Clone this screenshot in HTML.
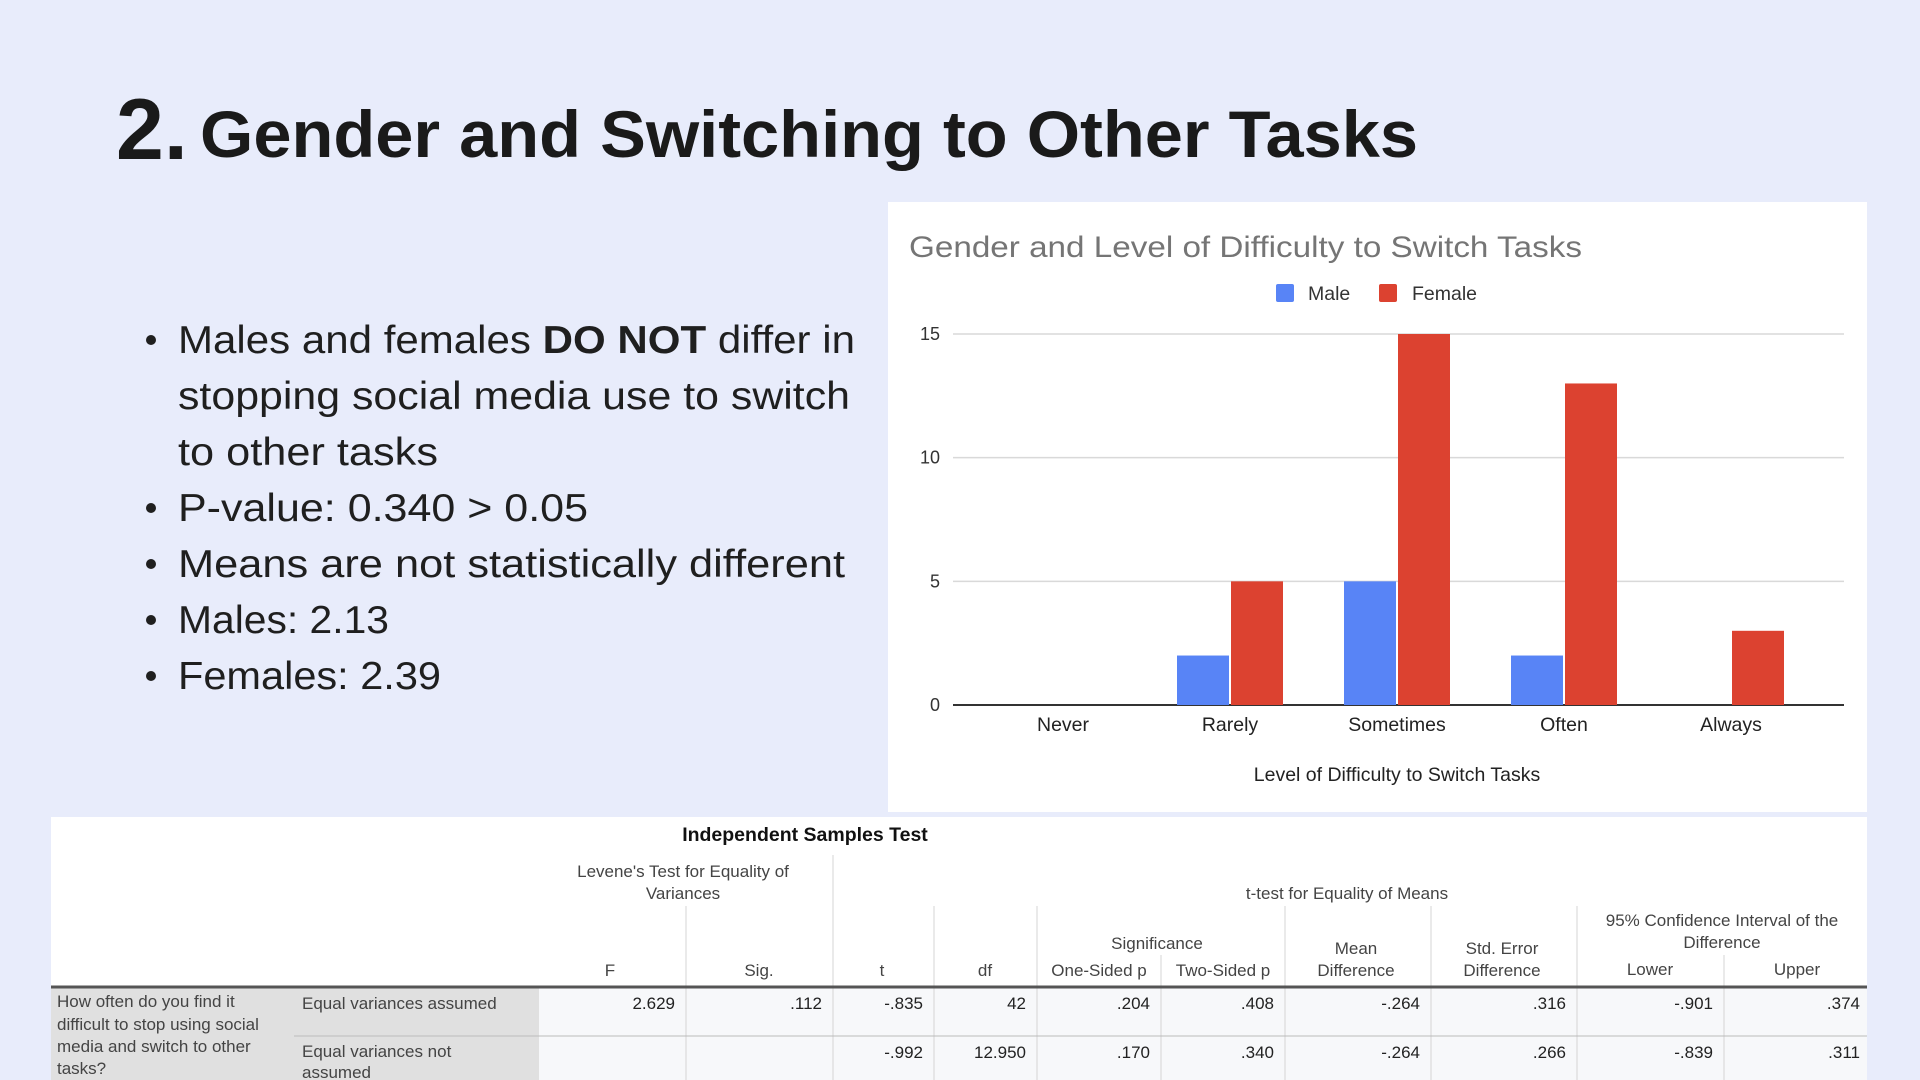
<!DOCTYPE html>
<html><head><meta charset="utf-8"><style>
html,body{margin:0;padding:0;background:#e8ecfb;}
svg{display:block;font-family:"Liberation Sans",sans-serif;}
</style></head><body>
<svg id="page" width="1920" height="1080" viewBox="0 0 1920 1080" xmlns="http://www.w3.org/2000/svg">
<rect x="0" y="0" width="1920" height="1080" fill="#e8ecfb"/>
<g>
<text x="116" y="159" font-size="86" font-weight="bold" fill="#1a1a1a">2.</text>
<text x="200" y="157" font-size="66" font-weight="bold" fill="#1a1a1a" textLength="1218" lengthAdjust="spacingAndGlyphs">Gender and Switching to Other Tasks</text>
</g>
<g font-size="39" fill="#1f1f1f">
<circle cx="151" cy="340" r="5" fill="#1f1f1f"/>
<text x="178" y="353" textLength="677" lengthAdjust="spacingAndGlyphs">Males and females <tspan font-weight="bold">DO NOT</tspan> differ in</text>
<text x="178" y="409" textLength="672" lengthAdjust="spacingAndGlyphs">stopping social media use to switch</text>
<text x="178" y="465" textLength="260" lengthAdjust="spacingAndGlyphs">to other tasks</text>
<circle cx="151" cy="508" r="5" fill="#1f1f1f"/>
<text x="178" y="521" textLength="410" lengthAdjust="spacingAndGlyphs">P-value: 0.340 &gt; 0.05</text>
<circle cx="151" cy="564" r="5" fill="#1f1f1f"/>
<text x="178" y="577" textLength="667" lengthAdjust="spacingAndGlyphs">Means are not statistically different</text>
<circle cx="151" cy="620" r="5" fill="#1f1f1f"/>
<text x="178" y="633" textLength="211" lengthAdjust="spacingAndGlyphs">Males: 2.13</text>
<circle cx="151" cy="676" r="5" fill="#1f1f1f"/>
<text x="178" y="689" textLength="263" lengthAdjust="spacingAndGlyphs">Females: 2.39</text>
</g>

<g id="chart">
<rect x="888" y="202" width="979" height="610" fill="#ffffff"/>
<text x="909" y="257" font-size="30" fill="#757575" textLength="673" lengthAdjust="spacingAndGlyphs">Gender and Level of Difficulty to Switch Tasks</text>
<g font-size="19.5" fill="#333">
<rect x="1276" y="284" width="18" height="18" rx="2" fill="#5884f6"/>
<text x="1308" y="300">Male</text>
<rect x="1379" y="284" width="18" height="18" rx="2" fill="#dc4230"/>
<text x="1412" y="300">Female</text>
</g>
<g id="grid"></g>
<g id="bars"></g>
<g id="xlabels"></g>
<text x="1397" y="781" font-size="19.5" fill="#222" text-anchor="middle">Level of Difficulty to Switch Tasks</text>
</g>

<g id="table" font-size="17" fill="#444">
<rect x="51" y="817" width="1816" height="263" fill="#ffffff"/>
<rect x="51" y="988" width="488" height="92" fill="#e0e0e0"/>
<rect x="539" y="988" width="1328" height="92" fill="#f7f8fa"/>
<text x="805" y="841" font-size="19.5" font-weight="bold" fill="#111" text-anchor="middle">Independent Samples Test</text>
<g stroke="#d4d4d4" stroke-width="1">
<line x1="833" y1="855" x2="833" y2="1080"/>
<line x1="686" y1="906" x2="686" y2="1080"/>
<line x1="934" y1="906" x2="934" y2="1080"/>
<line x1="1037" y1="906" x2="1037" y2="1080"/>
<line x1="1161" y1="955" x2="1161" y2="1080"/>
<line x1="1285" y1="906" x2="1285" y2="1080"/>
<line x1="1431" y1="906" x2="1431" y2="1080"/>
<line x1="1577" y1="906" x2="1577" y2="1080"/>
<line x1="1724" y1="955" x2="1724" y2="1080"/>
<line x1="294" y1="1036" x2="1867" y2="1036" stroke="#bbb"/>
</g>
<line x1="51" y1="987" x2="1867" y2="987" stroke="#555" stroke-width="3"/>
<g text-anchor="middle">
<text x="683" y="877">Levene's Test for Equality of</text>
<text x="683" y="899">Variances</text>
<text x="1347" y="899">t-test for Equality of Means</text>
<text x="610" y="976">F</text>
<text x="759" y="976">Sig.</text>
<text x="882" y="976">t</text>
<text x="985" y="976">df</text>
<text x="1157" y="949">Significance</text>
<text x="1099" y="976">One-Sided p</text>
<text x="1223" y="976">Two-Sided p</text>
<text x="1356" y="954">Mean</text>
<text x="1356" y="976">Difference</text>
<text x="1502" y="954">Std. Error</text>
<text x="1502" y="976">Difference</text>
<text x="1722" y="926">95% Confidence Interval of the</text>
<text x="1722" y="948">Difference</text>
<text x="1650" y="975">Lower</text>
<text x="1797" y="975">Upper</text>
</g>
<g>
<text x="57" y="1007">How often do you find it</text>
<text x="57" y="1030">difficult to stop using social</text>
<text x="57" y="1052">media and switch to other</text>
<text x="57" y="1074">tasks?</text>
<text x="302" y="1009">Equal variances assumed</text>
<text x="302" y="1057">Equal variances not</text>
<text x="302" y="1078">assumed</text>
</g>
<g text-anchor="end" fill="#222">
<text x="675" y="1009">2.629</text><text x="822" y="1009">.112</text><text x="923" y="1009">-.835</text><text x="1026" y="1009">42</text><text x="1150" y="1009">.204</text><text x="1274" y="1009">.408</text><text x="1420" y="1009">-.264</text><text x="1566" y="1009">.316</text><text x="1713" y="1009">-.901</text><text x="1860" y="1009">.374</text>
<text x="923" y="1058">-.992</text><text x="1026" y="1058">12.950</text><text x="1150" y="1058">.170</text><text x="1274" y="1058">.340</text><text x="1420" y="1058">-.264</text><text x="1566" y="1058">.266</text><text x="1713" y="1058">-.839</text><text x="1860" y="1058">.311</text>
</g>
</g>
</svg>
<script>
const categories = ["Never", "Rarely", "Sometimes", "Often", "Always"];
const maleValues = [0, 2, 5, 2, 0];
const femaleValues = [0, 5, 15, 13, 3];
const yTicks = [0, 5, 10, 15];

const NS = "http://www.w3.org/2000/svg";
const plotLeft = 953, plotRight = 1844, yBase = 705, yTop = 334, yMax = 15;
const firstCenter = 1063, step = 167;
function yScale(v){ return yBase - (v / yMax) * (yBase - yTop); }
function xScale(i){ return firstCenter + i * step; }
function mk(tag, attrs){ const e = document.createElementNS(NS, tag); for (const k in attrs) e.setAttribute(k, attrs[k]); return e; }

const grid = document.getElementById('grid');
yTicks.forEach(t => {
  const y = yScale(t);
  const ln = mk('line', {x1: plotLeft, x2: plotRight, y1: y, y2: y, stroke: t === 0 ? '#333' : '#d9d9d9', 'stroke-width': t === 0 ? 2 : 1.5});
  
  
  grid.appendChild(ln);
  const tx = mk('text', {x: 940, y: y + 6, 'text-anchor': 'end', 'font-size': 18, fill: '#333'});
  tx.textContent = t;
  
  
  grid.appendChild(tx);
});

const bars = document.getElementById('bars');
const xl = document.getElementById('xlabels');
const bw = 52;
categories.forEach((c, i) => {
  const cx = xScale(i);
  if (maleValues[i] > 0) {
    const r = mk('rect', {x: cx - bw - 1, y: yScale(maleValues[i]), width: bw, height: yBase - yScale(maleValues[i]), fill: '#5884f6'});
    
    
    bars.appendChild(r);
  }
  if (femaleValues[i] > 0) {
    const r = mk('rect', {x: cx + 1, y: yScale(femaleValues[i]), width: bw, height: yBase - yScale(femaleValues[i]), fill: '#dc4230'});
    
    
    bars.appendChild(r);
  }
  const t = mk('text', {x: cx, y: 731, 'text-anchor': 'middle', 'font-size': 19.5, fill: '#222'});
  t.textContent = c;
  
  
  xl.appendChild(t);
});
</script>
</body></html>
